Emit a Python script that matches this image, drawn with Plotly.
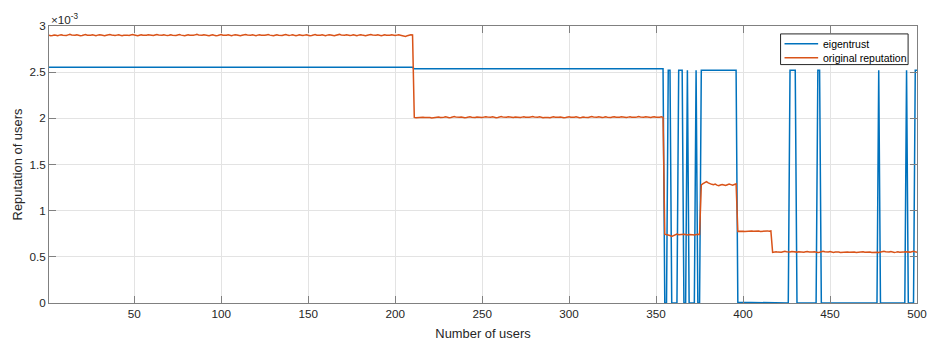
import plotly.graph_objects as go

# ---------------- data (values in units of 1e-3) ----------------
users = list(range(1, 501))

# eigentrust: run-length description (level, number of users)
eig_levels = [2.552, 2.537, 0, 2.52, 0, 2.52, 0, 2.52, 0, 2.52, 0, 2.52,
              0.008, 0, 2.52, 0, 2.52, 0, 2.52, 0, 2.52, 0, 2.52]
eig_counts = [210, 144, 2, 2, 4, 3, 2, 1, 4, 1, 2, 21,
              20, 10, 4, 12, 2, 33, 1, 15, 1, 4, 2]

# original reputation, segment by segment
orig_seg1 = [  # users 1..210
    2.900, 2.894, 2.897, 2.903, 2.899, 2.895, 2.901, 2.906, 2.900, 2.896,
    2.898, 2.904, 2.909, 2.902, 2.897, 2.900, 2.905, 2.899, 2.894, 2.898,
    2.903, 2.907, 2.901, 2.896, 2.899, 2.904, 2.900, 2.895, 2.901, 2.906,
    2.902, 2.897, 2.894, 2.899, 2.905, 2.908, 2.903, 2.898, 2.896, 2.901,
    2.906, 2.900, 2.895, 2.899, 2.904, 2.901, 2.897, 2.902, 2.907, 2.903,
    2.898, 2.894, 2.900, 2.905, 2.899, 2.896, 2.901, 2.904, 2.900, 2.895,
    2.897, 2.903, 2.908, 2.902, 2.898, 2.901, 2.906, 2.900, 2.896, 2.899,
    2.904, 2.900, 2.895, 2.898, 2.903, 2.907, 2.901, 2.897, 2.894, 2.900,
    2.905, 2.901, 2.896, 2.899, 2.904, 2.909, 2.903, 2.898, 2.901, 2.906,
    2.902, 2.897, 2.895, 2.900, 2.905, 2.899, 2.894, 2.898, 2.903, 2.907,
    2.901, 2.896, 2.899, 2.904, 2.900, 2.895, 2.901, 2.906, 2.902, 2.897,
    2.894, 2.899, 2.905, 2.908, 2.902, 2.898, 2.900, 2.904, 2.899, 2.895,
    2.901, 2.906, 2.900, 2.896, 2.899, 2.903, 2.907, 2.901, 2.897, 2.894,
    2.900, 2.905, 2.901, 2.896, 2.898, 2.903, 2.908, 2.902, 2.897, 2.901,
    2.906, 2.900, 2.895, 2.899, 2.904, 2.900, 2.896, 2.901, 2.905, 2.899,
    2.894, 2.898, 2.903, 2.907, 2.901, 2.897, 2.900, 2.905, 2.899, 2.895,
    2.901, 2.906, 2.902, 2.897, 2.894, 2.900, 2.904, 2.909, 2.903, 2.898,
    2.901, 2.905, 2.900, 2.896, 2.899, 2.904, 2.900, 2.895, 2.901, 2.906,
    2.902, 2.897, 2.895, 2.900, 2.905, 2.908, 2.902, 2.898, 2.901, 2.904,
    2.899, 2.895, 2.900, 2.906, 2.901, 2.897, 2.899, 2.904, 2.900, 2.896,
    2.901, 2.905, 2.900, 2.896, 2.890, 2.886, 2.895, 2.902, 2.906, 2.903,
]
orig_seg2 = [  # users 211..354
    2.010, 2.006, 2.009, 2.014, 2.017, 2.012, 2.008, 2.011, 2.015, 2.010, 2.005, 2.009,
    2.013, 2.018, 2.014, 2.009, 2.007, 2.012, 2.016, 2.011, 2.006, 2.010, 2.014, 2.019,
    2.013, 2.008, 2.011, 2.015, 2.010, 2.006, 2.009, 2.013, 2.017, 2.012, 2.007, 2.010,
    2.015, 2.011, 2.006, 2.008, 2.013, 2.018, 2.014, 2.009, 2.012, 2.016, 2.011, 2.007,
    2.010, 2.014, 2.019, 2.013, 2.008, 2.011, 2.016, 2.012, 2.007, 2.009, 2.014, 2.010,
    2.005, 2.009, 2.013, 2.017, 2.012, 2.008, 2.011, 2.015, 2.019, 2.014, 2.009, 2.012,
    2.016, 2.011, 2.006, 2.010, 2.014, 2.010, 2.007, 2.012, 2.017, 2.013, 2.008, 2.011,
    2.015, 2.010, 2.006, 2.009, 2.013, 2.018, 2.013, 2.009, 2.012, 2.016, 2.011, 2.007,
    2.010, 2.015, 2.011, 2.006, 2.009, 2.014, 2.019, 2.014, 2.010, 2.013, 2.017, 2.012,
    2.008, 2.011, 2.016, 2.012, 2.007, 2.010, 2.014, 2.018, 2.013, 2.009, 2.012, 2.016,
    2.011, 2.006, 2.009, 2.013, 2.017, 2.012, 2.008, 2.011, 2.015, 2.020, 2.015, 2.010,
    2.013, 2.017, 2.012, 2.008, 2.010, 2.014, 2.018, 2.013, 2.009, 2.012, 2.016, 2.011,
]
orig_seg3 = [  # users 355..375
    0.745, 0.742, 0.738, 0.731, 0.722, 0.728, 0.741, 0.746, 0.740, 0.743,
    0.739, 0.744, 0.741, 0.737, 0.742, 0.745, 0.740, 0.736, 0.741, 0.744, 0.742,
]
orig_seg4 = [  # users 376..396
    1.279, 1.292, 1.306, 1.314, 1.301, 1.290, 1.285, 1.280, 1.287, 1.276,
    1.270, 1.278, 1.284, 1.279, 1.273, 1.281, 1.288, 1.282, 1.276, 1.283, 1.290,
]
orig_seg5 = [  # users 397..416
    0.776, 0.779, 0.783, 0.778, 0.774, 0.777, 0.781, 0.785, 0.780, 0.776,
    0.779, 0.783, 0.779, 0.775, 0.778, 0.782, 0.786, 0.781, 0.777, 0.780,
]
orig_seg6 = [  # users 417..500
    0.548, 0.552, 0.556, 0.551, 0.547, 0.550, 0.555, 0.559, 0.554, 0.549, 0.552, 0.557,
    0.553, 0.548, 0.551, 0.556, 0.552, 0.547, 0.550, 0.554, 0.558, 0.553, 0.549, 0.552,
    0.556, 0.551, 0.547, 0.550, 0.555, 0.559, 0.554, 0.550, 0.553, 0.557, 0.552, 0.548,
    0.551, 0.555, 0.551, 0.547, 0.550, 0.554, 0.558, 0.553, 0.549, 0.552, 0.557, 0.552,
    0.548, 0.551, 0.556, 0.560, 0.555, 0.550, 0.553, 0.557, 0.552, 0.548, 0.550, 0.554,
    0.549, 0.546, 0.550, 0.555, 0.559, 0.554, 0.550, 0.553, 0.557, 0.552, 0.548, 0.551,
    0.555, 0.550, 0.547, 0.551, 0.556, 0.552, 0.548, 0.551, 0.555, 0.559, 0.554, 0.550,
]

series_names = ["eigentrust", "original reputation"]
series_colors = ["#0072BD", "#D95319"]

x_ticks = [50, 100, 150, 200, 250, 300, 350, 400, 450, 500]
y_ticks = [0, 0.5, 1, 1.5, 2, 2.5, 3]
y_tick_text = ["0", "0.5", "1", "1.5", "2", "2.5", "3"]

# ---------------- build series ----------------
eigentrust = []
for lvl, n in zip(eig_levels, eig_counts):
    eigentrust += [lvl] * n
original = orig_seg1 + orig_seg2 + orig_seg3 + orig_seg4 + orig_seg5 + orig_seg6

FONT = "Liberation Sans, Arial, Helvetica, sans-serif"
AX_COL = "#808080"
GRID_COL = "#e3e3e3"
TXT = "#262626"

fig = go.Figure()
for ys, nm, col in zip([eigentrust, original], series_names, series_colors):
    fig.add_trace(go.Scatter(x=users, y=ys, mode="lines", name=nm,
                             line=dict(color=col, width=1.5)))

axis_common = dict(showgrid=True, gridcolor=GRID_COL, gridwidth=1,
                   showline=True, linecolor=AX_COL, linewidth=1, mirror="ticks",
                   ticks="inside", ticklen=7, tickcolor=AX_COL, tickwidth=1,
                   zeroline=False, ticklabeloverflow="allow",
                   tickfont=dict(family=FONT, size=11.7, color=TXT))

fig.update_xaxes(range=[1, 500], tickvals=x_ticks,
                 title=dict(text="Number of users", font=dict(family=FONT, size=12.9, color=TXT),
                            standoff=9),
                 **axis_common)
fig.update_yaxes(range=[0, 3], tickvals=y_ticks, ticktext=y_tick_text,
                 title=dict(text="Reputation of users", font=dict(family=FONT, size=12.9, color=TXT),
                            standoff=3),
                 **axis_common)

fig.add_annotation(text="×10<sup>-3</sup>", xref="paper", yref="paper", x=0, y=1.024,
                   xanchor="left", yanchor="middle", showarrow=False,
                   font=dict(family=FONT, size=11.7, color=TXT))

# ---- legend box (MATLAB style, compact rows) ----
PW, PH = 878.0, 280.0  # plot area size in px
def px_x(p):
    return p / PW
def px_y(p):
    return 1 - p / PH

box_l, box_r, box_t, box_b = 740, 869, 8, 39   # px offsets from plot top-left
fig.add_shape(type="rect", xref="paper", yref="paper",
              x0=px_x(box_l), x1=px_x(box_r), y0=px_y(box_b), y1=px_y(box_t),
              fillcolor="white", line=dict(color="#262626", width=1), layer="above")
row_y = [18, 32]
for nm, col, ry in zip(series_names, series_colors, row_y):
    fig.add_shape(type="line", xref="paper", yref="paper",
                  x0=px_x(box_l + 4), x1=px_x(box_l + 38), y0=px_y(ry), y1=px_y(ry),
                  line=dict(color=col, width=1.5), layer="above")
    fig.add_annotation(text=nm, xref="paper", yref="paper", x=px_x(box_l + 41), y=px_y(ry),
                       xanchor="left", yanchor="middle", showarrow=False,
                       font=dict(family=FONT, size=10.5, color="#000000"))

# the page body has an 8px margin: size the figure so the plot area lands where it should
fig.update_layout(
    width=928, height=339,
    margin=dict(l=41, r=9, t=18, b=41),
    paper_bgcolor="white", plot_bgcolor="white",
    font=dict(family=FONT, color=TXT),
    showlegend=False,
)

fig.write_html("out.html", config={"displayModeBar": False})
